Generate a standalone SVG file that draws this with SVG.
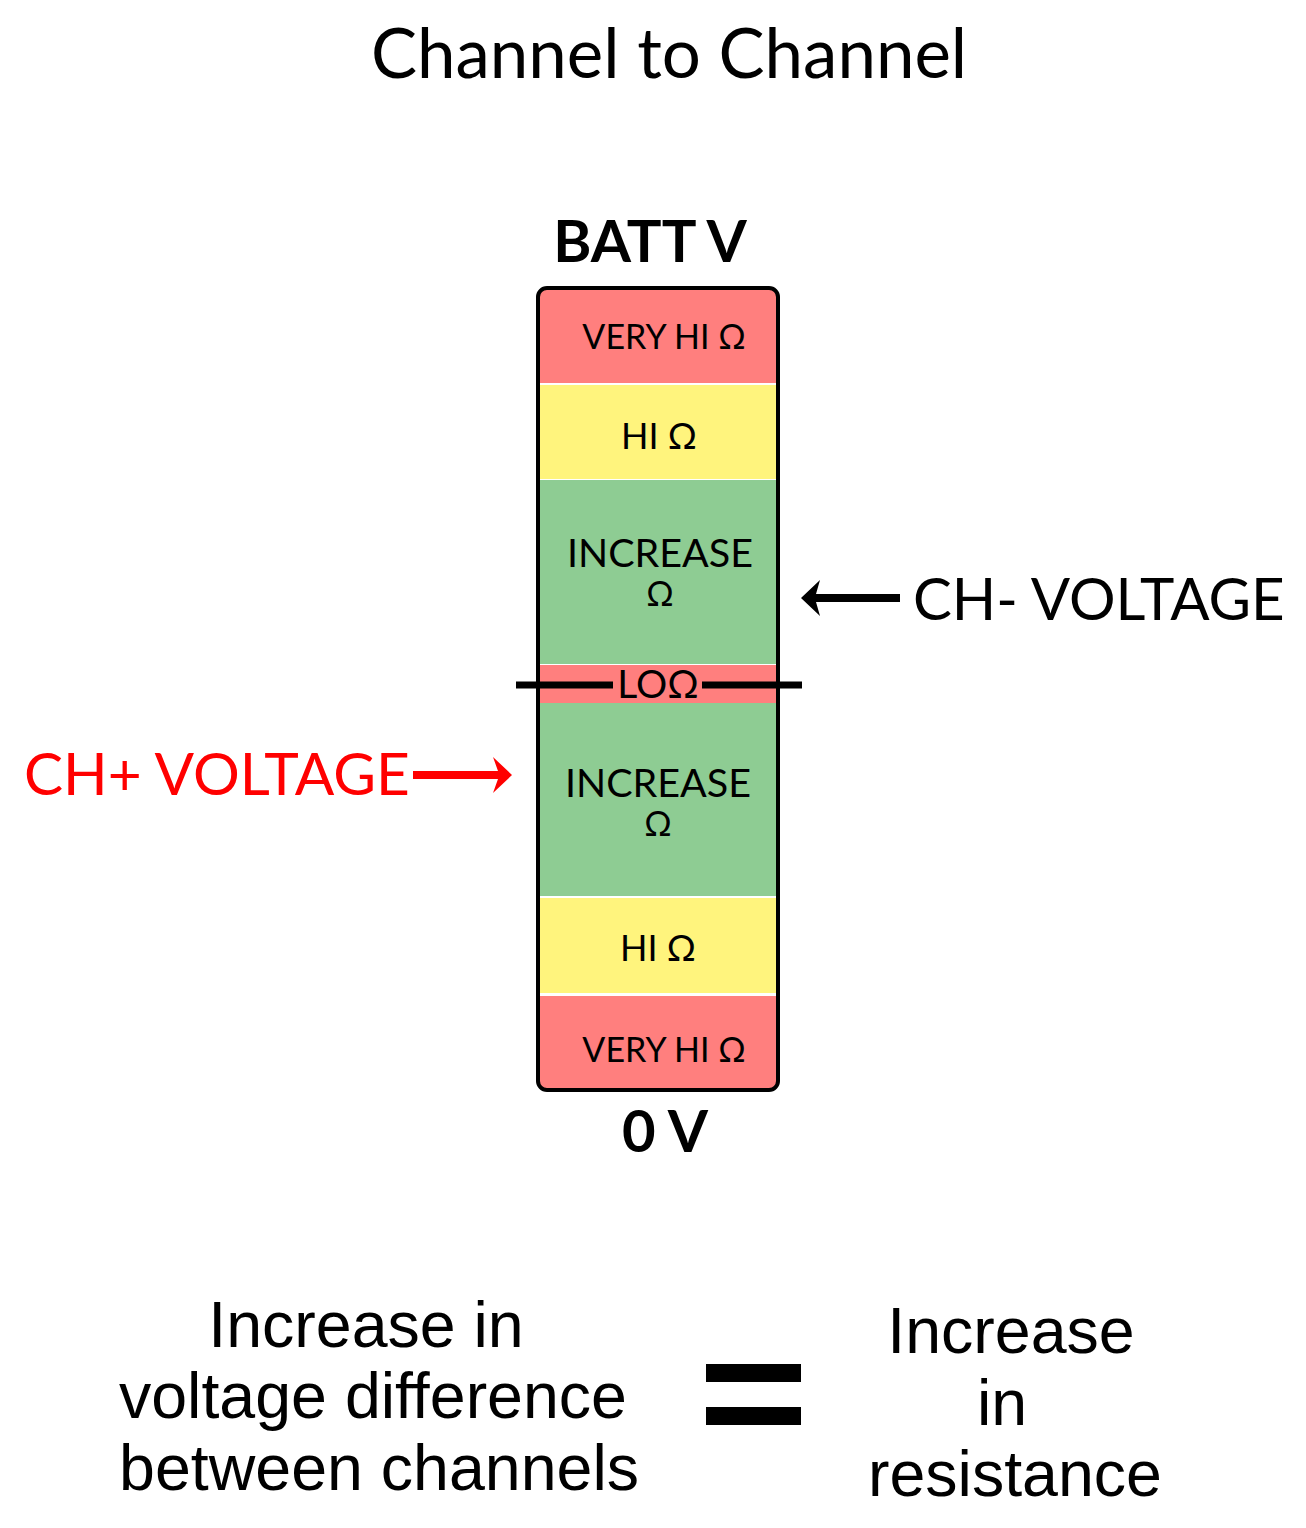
<svg xmlns="http://www.w3.org/2000/svg" width="1306" height="1528" viewBox="0 0 1306 1528">
<style>
.lato{font-family:Lato,"Open Sans",sans-serif}
.seg{font-family:Lato,sans-serif;font-size:34px;fill:#000;text-anchor:middle}
.inc{font-size:39.5px}
.hi{font-size:36px}
.lo{font-size:39px}
.big{font-family:"Liberation Sans",Arial,sans-serif;font-size:64.5px;fill:#000;text-anchor:middle}
.red{fill:#ff7f7e}.yel{fill:#fff47d}.grn{fill:#8ecc93}
</style>
<rect width="1306" height="1528" fill="#fff"/>
<text class="lato" x="669" y="78" font-size="69" text-anchor="middle">Channel to Channel</text>
<text class="lato" x="650" y="262" font-size="58" font-weight="bold" text-anchor="middle">BATT V</text>
<g id="bar">
<rect x="538" y="288" width="240" height="802" rx="9" fill="#fff"/>
<rect class="red" x="540" y="290" width="236" height="93"/>
<rect class="yel" x="540" y="385" width="236" height="94"/>
<rect class="grn" x="540" y="480" width="236" height="184"/>
<rect class="red" x="540" y="665" width="236" height="38"/>
<rect class="grn" x="540" y="703" width="236" height="193"/>
<rect class="yel" x="540" y="898" width="236" height="95"/>
<rect class="red" x="540" y="996" width="236" height="93"/>
<rect x="538" y="288" width="240" height="802" rx="9" fill="none" stroke="#000" stroke-width="4"/>
</g>
<g id="seg-texts">
<text class="seg" x="664" y="349">VERY HI Ω</text>
<text class="seg hi" x="659" y="449">HI Ω</text>
<text class="seg inc" x="660" y="567">INCREASE</text>
<text class="seg" x="660" y="606">Ω</text>
<text class="seg inc" x="658" y="797">INCREASE</text>
<text class="seg" x="658" y="836">Ω</text>
<text class="seg hi" x="658" y="961">HI Ω</text>
<text class="seg" x="664" y="1062">VERY HI Ω</text>
</g>
<g id="lo">
<line x1="516" y1="685" x2="613" y2="685" stroke="#000" stroke-width="7"/>
<line x1="702" y1="685" x2="802" y2="685" stroke="#000" stroke-width="7"/>
<text class="seg lo" x="658" y="698">LOΩ</text>
</g>
<text class="lato" x="665" y="1152" font-size="58" font-weight="bold" text-anchor="middle">0 V</text>
<g id="connectors">
<path d="M801,598 L820,580 L816,594 L900,594 L900,602 L816,602 L820,616 Z" fill="#000"/>
<path d="M512,775 L493,757 L498,771 L413,771 L413,779 L498,779 L493,793 Z" fill="#f00"/>
</g>
<text class="lato" x="913" y="620" font-size="58.2" fill="#000">CH- VOLTAGE</text>
<text class="lato" x="24" y="795" font-size="58.5" fill="#f00">CH+ VOLTAGE</text>
<g id="bottom">
<text class="big" x="366" y="1347">Increase in</text>
<text class="big" x="373" y="1418">voltage difference</text>
<text class="big" x="379" y="1490">between channels</text>
<rect x="706" y="1364" width="95" height="18" fill="#000"/>
<rect x="706" y="1407" width="95" height="18" fill="#000"/>
<text class="big" x="1011" y="1353">Increase</text>
<text class="big" x="1002" y="1425">in</text>
<text class="big" x="1015" y="1496">resistance</text>
</g>
</svg>
